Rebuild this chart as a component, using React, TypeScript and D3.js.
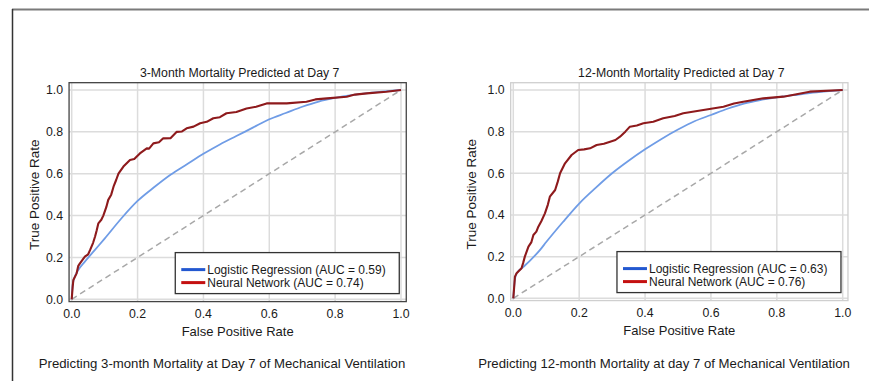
import * as d3 from 'd3';

// ROC points [fpr, tpr]
const lr3: [number, number][] = [
  [0, 0], [0.003, 0.07], [0.01, 0.11], [0.02, 0.14], [0.04, 0.18], [0.07, 0.235], [0.1, 0.29],
  [0.15, 0.385], [0.2, 0.47], [0.25, 0.535], [0.3, 0.595], [0.35, 0.645], [0.4, 0.695], [0.45, 0.74],
  [0.5, 0.78], [0.55, 0.82], [0.6, 0.86], [0.65, 0.89], [0.7, 0.92], [0.75, 0.945], [0.8, 0.962],
  [0.85, 0.975], [0.9, 0.985], [0.95, 0.993], [1, 1],
];
const nn3: [number, number][] = [
  [0, 0], [0.003, 0.06], [0.005, 0.092], [0.015, 0.124], [0.02, 0.16], [0.025, 0.172], [0.04, 0.204],
  [0.05, 0.215], [0.056, 0.236], [0.065, 0.27], [0.071, 0.3], [0.076, 0.33], [0.081, 0.363],
  [0.09, 0.38], [0.096, 0.4], [0.105, 0.44], [0.111, 0.475], [0.12, 0.5], [0.127, 0.538],
  [0.135, 0.57], [0.142, 0.6], [0.157, 0.634], [0.177, 0.666], [0.19, 0.67], [0.207, 0.697],
  [0.228, 0.721], [0.235, 0.72], [0.248, 0.745], [0.265, 0.75], [0.278, 0.769], [0.3, 0.77],
  [0.319, 0.8], [0.335, 0.802], [0.349, 0.817], [0.37, 0.825], [0.39, 0.841], [0.41, 0.848],
  [0.43, 0.865], [0.45, 0.87], [0.47, 0.889], [0.5, 0.895], [0.531, 0.912], [0.56, 0.92],
  [0.592, 0.936], [0.653, 0.936], [0.713, 0.944], [0.74, 0.955], [0.775, 0.96], [0.835, 0.968],
  [0.86, 0.978], [0.896, 0.984], [0.956, 0.992], [1, 1],
];
const lr12: [number, number][] = [
  [0, 0], [0.004, 0.08], [0.01, 0.12], [0.03, 0.15], [0.05, 0.18], [0.08, 0.23], [0.1, 0.27],
  [0.15, 0.365], [0.2, 0.455], [0.25, 0.53], [0.3, 0.6], [0.35, 0.66], [0.4, 0.715], [0.45, 0.765],
  [0.5, 0.81], [0.55, 0.85], [0.6, 0.88], [0.65, 0.91], [0.7, 0.935], [0.75, 0.952], [0.8, 0.965],
  [0.85, 0.975], [0.9, 0.985], [0.95, 0.993], [1, 1],
];
const nn12: [number, number][] = [
  [0, 0], [0.002, 0.04], [0.005, 0.104], [0.01, 0.12], [0.025, 0.144], [0.03, 0.17], [0.035, 0.2],
  [0.046, 0.248], [0.055, 0.27], [0.061, 0.304], [0.07, 0.32], [0.076, 0.344], [0.085, 0.37],
  [0.096, 0.408], [0.105, 0.45], [0.111, 0.488], [0.127, 0.52], [0.135, 0.56], [0.142, 0.6],
  [0.157, 0.648], [0.177, 0.688], [0.197, 0.712], [0.215, 0.715], [0.233, 0.72], [0.253, 0.736],
  [0.275, 0.742], [0.294, 0.752], [0.31, 0.76], [0.324, 0.776], [0.34, 0.8], [0.354, 0.824],
  [0.375, 0.83], [0.395, 0.84], [0.425, 0.848], [0.455, 0.864], [0.49, 0.875], [0.516, 0.888],
  [0.577, 0.904], [0.638, 0.92], [0.67, 0.935], [0.698, 0.944], [0.759, 0.96], [0.82, 0.968],
  [0.86, 0.98], [0.9, 0.992], [1, 1],
];

const ticks = [0, 0.2, 0.4, 0.6, 0.8, 1.0];
const titles = ['3-Month Mortality Predicted at Day 7', '12-Month Mortality Predicted at Day 7'];
const captions = [
  'Predicting 3-month Mortality at Day 7 of Mechanical Ventilation',
  'Predicting 12-month Mortality at day 7 of Mechanical Ventilation',
];
const lrLabels = ['Logistic Regression (AUC = 0.59)', 'Logistic Regression (AUC = 0.63)'];
const nnLabels = ['Neural Network (AUC = 0.74)', 'Neural Network (AUC = 0.76)'];

const FONT = 'Liberation Sans, Arial, sans-serif';
const RED = '#8e1a1c';
const BLUE = '#6f9ce6';

interface PanelProps {
  x0: number;
  x1: number;
  y0: number;
  y1: number;
  lr: [number, number][];
  nn: [number, number][];
  title: string;
  caption: string;
  captionX: number;
  lrLabel: string;
  nnLabel: string;
  frameColor: string;
  labelX: number;
}

function Panel({ x0, x1, y0, y1, lr, nn, title, caption, captionX, lrLabel, nnLabel, frameColor, labelX }: PanelProps) {
  const x = d3.scaleLinear().domain([0, 1]).range([x0, x1]);
  const y = d3.scaleLinear().domain([0, 1]).range([y0, y1]);
  const line = d3.line<[number, number]>().x(d => x(d[0])).y(d => y(d[1]));
  const smooth = d3.line<[number, number]>().x(d => x(d[0])).y(d => y(d[1])).curve(d3.curveMonotoneX);

  const fl = x(-0.008), fr = x(1.016), ft = y(1.035), fb = y(-0.011);
  const lw = 224, lh = 41;
  const lx = fr - lw - 7, ly = fb - 49;

  return (
    <g fontFamily={FONT} fill="#1a1a1a">
      {ticks.map(t => (
        <g key={'g' + t}>
          <line x1={x(t)} x2={x(t)} y1={ft} y2={fb} stroke="#dcdcdc" strokeWidth={1.5} />
          <line x1={fl} x2={fr} y1={y(t)} y2={y(t)} stroke="#dcdcdc" strokeWidth={1.5} />
        </g>
      ))}
      <line x1={x(0)} y1={y(0)} x2={x(1)} y2={y(1)} stroke="#a8a8a8" strokeWidth={1.5} strokeDasharray="6,4" />
      <path d={smooth(lr) ?? ''} fill="none" stroke={BLUE} strokeWidth={1.8} />
      <path d={line(nn) ?? ''} fill="none" stroke={RED} strokeWidth={2.1} strokeLinejoin="round" />
      <rect x={fl} y={ft} width={fr - fl} height={fb - ft} fill="none" stroke={frameColor} strokeWidth={1.3} />

      {ticks.map(t => (
        <text key={'yt' + t} x={fl - 6} y={y(t)} dy="0.35em" textAnchor="end" fontSize={12.3}>{t.toFixed(1)}</text>
      ))}
      {ticks.map(t => (
        <text key={'xt' + t} x={x(t)} y={fb + 16} textAnchor="middle" fontSize={12.3}>{t.toFixed(1)}</text>
      ))}
      <text x={(fl + fr) / 2} y={fb + 34} textAnchor="middle" fontSize={13}>False Positive Rate</text>
      <text transform={`translate(${labelX},${(y(0) + y(1)) / 2}) rotate(-90)`} textAnchor="middle" dy="0.35em" fontSize={13.5}>
        True Positive Rate
      </text>
      <text x={(fl + fr) / 2 + 2} y={ft - 6} textAnchor="middle" fontSize={12.3}>{title}</text>
      <text x={captionX} y={368} textAnchor="middle" fontSize={13.2}>{caption}</text>

      <rect x={lx} y={ly} width={lw} height={lh} fill="#fff" stroke="#333" strokeWidth={1.3} />
      <line x1={lx + 6} x2={lx + 30} y1={ly + 17} y2={ly + 17} stroke="#2358d0" strokeWidth={3} />
      <line x1={lx + 6} x2={lx + 30} y1={ly + 30} y2={ly + 30} stroke="#c41010" strokeWidth={3} />
      <text x={lx + 32} y={ly + 17} dy="0.35em" fontSize={12}>{lrLabel}</text>
      <text x={lx + 32} y={ly + 30} dy="0.35em" fontSize={12}>{nnLabel}</text>
    </g>
  );
}

export default function App() {
  return (
    <>
      <style>{'html,body{margin:0;padding:0;overflow:hidden;background:#fff}'}</style>
      <svg width={869} height={381} style={{ display: 'block' }}>
        <line x1={12} x2={869} y1={9.5} y2={9.5} stroke="#7a7a7a" strokeWidth={2} />
        <line x1={12.5} x2={12.5} y1={9} y2={381} stroke="#333" strokeWidth={1.5} />
        <Panel
          x0={71.7} x1={401} y0={299.3} y1={90}
          lr={lr3} nn={nn3}
          title={titles[0]} caption={captions[0]} captionX={222}
          lrLabel={lrLabels[0]} nnLabel={nnLabels[0]}
          frameColor="#444" labelX={34}
        />
        <Panel
          x0={513.3} x1={842.7} y0={298.3} y1={90}
          lr={lr12} nn={nn12}
          title={titles[1]} caption={captions[1]} captionX={664}
          lrLabel={lrLabels[1]} nnLabel={nnLabels[1]}
          frameColor="#cfcfcf" labelX={471}
        />
      </svg>
    </>
  );
}
